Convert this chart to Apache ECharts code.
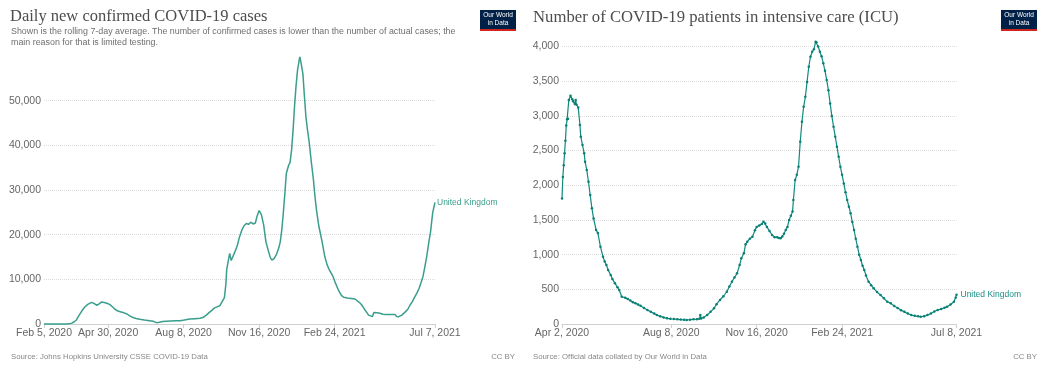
<!DOCTYPE html>
<html><head><meta charset="utf-8">
<script src="https://cdn.jsdelivr.net/npm/echarts@6/dist/echarts.min.js"></script>
<style>html,body{margin:0;padding:0;background:#fff}#c{width:1050px;height:370px}</style>
</head><body><div id="c"></div>
<script>
// ---- Left chart: daily new confirmed cases (x = days since Feb 5, 2020) ----
const casesTickDays = [0, 85, 185, 285, 385, 518];
const casesTickLabels = ['Feb 5, 2020', 'Apr 30, 2020', 'Aug 8, 2020', 'Nov 16, 2020', 'Feb 24, 2021', 'Jul 7, 2021'];
const casesYTicks = [0, 10000, 20000, 30000, 40000, 50000];
const casesData = [
  [0,0],[10,0],[20,0],[30,0],[33,30],[37,200],[40,500],[43,900],[46,1800],[50,2900],[54,3800],[58,4400],
  [63,4860],[66,4600],[70,4200],[73,4500],[76,4900],[80,4800],[84,4600],[87,4400],[91,3800],[94,3300],
  [98,2900],[102,2700],[106,2500],[110,2240],[114,1750],[118,1450],[122,1250],[127,1050],[133,900],
  [140,740],[145,600],[149,300],[153,400],[157,550],[162,600],[168,650],[174,700],[180,750],[186,900],
  [193,1120],[200,1200],[207,1280],[211,1500],[215,2000],[219,2600],[222,3000],[226,3600],[230,3900],
  [233,4100],[236,5000],[239,5900],[240,6100],[241,9000],[242,12100],[244,14000],[246,15800],[248,14200],
  [250,15000],[253,16200],[256,17500],[259,19500],[262,21000],[265,22000],[268,22500],[271,22300],
  [274,22800],[277,22400],[280,22600],[282,24000],[285,25400],[288,24500],[291,22200],[294,18400],
  [297,16500],[300,14800],[302,14300],[305,14700],[308,15600],[311,17000],[313,18400],[315,21000],
  [317,24800],[319,29000],[321,33700],[324,35500],[326,36200],[328,39000],[330,43400],[332,49000],
  [334,53500],[336,57000],[338,59000],[339,59800],[341,58000],[343,56000],[345,51000],[347,46400],
  [349,43500],[351,41200],[354,36500],[357,32200],[359,28500],[361,25500],[364,22000],[368,18800],
  [372,15100],[375,13300],[378,12100],[381,11200],[383,10600],[386,9200],[390,7600],[394,6400],
  [397,5980],[402,5800],[407,5700],[412,5600],[414,5530],[418,4800],[421,4250],[425,3200],[428,2500],
  [430,2000],[432,1700],[435,1650],[437,2600],[441,2500],[445,2400],[449,2200],[453,2150],[457,2100],
  [461,2100],[465,2150],[467,1700],[470,1650],[472,1700],[474,2000],[478,2600],[482,3300],[485,4250],
  [488,5000],[491,6000],[494,6900],[497,8000],[500,9500],[502,10600],[504,12300],[507,15100],
  [510,18500],[512,20500],[515,25000],[518,27200]
];

// ---- Right chart: ICU patients (x = days since Apr 2, 2020) ----
const icuTickDays = [0, 128, 228, 328, 462];
const icuTickLabels = ['Apr 2, 2020', 'Aug 8, 2020', 'Nov 16, 2020', 'Feb 24, 2021', 'Jul 8, 2021'];
const icuData = [
  [0,1810],[1,2120],[2,2290],[3,2460],[4,2640],[5,2860],[6,2950],[7,2960],[8,3230],[10,3290],[12,3240],
  [13,3210],[15,3170],[16,3230],[17,3160],[19,3120],[21,2870],[22,2700],[24,2580],[26,2460],[27,2340],
  [29,2220],[31,2050],[33,1860],[35,1670],[37,1520],[40,1355],[42,1310],[45,1115],[48,970],[50,900],
  [52,850],[54,780],[57,706],[59,650],[62,586],[65,530],[67,490],[70,393],[74,380],[77,360],[80,340],
  [83,315],[86,298],[89,280],[92,264],[96,230],[100,202],[104,175],[108,150],[111,130],[115,110],
  [119,95],[123,82],[127,75],[131,72],[135,68],[139,64],[143,60],[146,58],[150,62],[154,68],[158,70],
  [161,75],[162,130],[163,80],[166,95],[170,130],[174,175],[178,226],[181,285],[185,346],[189,400],
  [193,465],[196,540],[199,610],[202,670],[205,730],[208,850],[210,947],[213,1019],[215,1150],[217,1186],
  [220,1230],[223,1258],[226,1350],[228,1400],[231,1420],[234,1440],[236,1474],[238,1450],[240,1400],
  [243,1340],[246,1283],[249,1250],[252,1250],[254,1240],[256,1235],[258,1260],[260,1300],[262,1355],
  [264,1400],[266,1500],[268,1560],[270,1620],[271,1787],[273,2075],[275,2150],[277,2267],[279,2627],
  [281,2915],[283,3131],[285,3275],[287,3490],[289,3708],[291,3852],[293,3924],[295,3960],[297,4068],
  [298,4060],[300,4000],[302,3924],[304,3860],[306,3757],[308,3650],[310,3516],[312,3370],[314,3180],
  [316,3000],[318,2843],[320,2700],[322,2555],[324,2410],[326,2267],[328,2150],[330,2027],[332,1900],
  [334,1787],[336,1690],[338,1595],[340,1470],[342,1355],[344,1230],[346,1114],[348,1000],[350,922],
  [352,840],[354,778],[356,700],[359,610],[362,560],[365,514],[369,460],[373,418],[377,370],[381,321],
  [385,298],[389,260],[393,230],[397,200],[401,175],[405,150],[409,130],[413,118],[417,110],[420,105],
  [424,110],[428,130],[432,150],[436,180],[440,202],[444,215],[448,235],[451,250],[455,280],[459,321],
  [461,380],[462,420]
];

const SANS = '"Liberation Sans", Arial, sans-serif';
const SERIF = '"Liberation Serif", "Times New Roman", serif';
const fmtNum = v => v.toLocaleString('en-US');

function xAxisCfg(gridIndex, maxDay, ticks, labels) {
  return {
    type: 'value', gridIndex, min: 0, max: maxDay,
    axisLine: { show: true, lineStyle: { color: '#cfcfcf', width: 1 } },
    axisTick: { show: true, customValues: ticks, length: 4, lineStyle: { color: '#cfcfcf' } },
    axisLabel: {
      customValues: ticks, color: '#666', fontSize: 10.5, fontFamily: SANS, margin: 4,
      formatter: v => { const i = ticks.indexOf(v); return i >= 0 ? labels[i] : ''; }
    },
    splitLine: { show: false }
  };
}
function yAxisCfg(gridIndex, max, interval) {
  return {
    type: 'value', gridIndex, min: 0, max, interval,
    axisLine: { show: false }, axisTick: { show: false },
    axisLabel: { color: '#666', fontSize: 10.5, fontFamily: SANS, margin: 3, formatter: fmtNum },
    splitLine: { show: true, lineStyle: { color: '#dcdcdc', type: 'dotted', width: 1 } }
  };
}
function logo(x) {
  return [
    { type: 'rect', shape: { x: x, y: 10, width: 36, height: 19 }, style: { fill: '#002147' } },
    { type: 'rect', shape: { x: x, y: 29, width: 36, height: 2 }, style: { fill: '#ce261e' } },
    { type: 'text', style: { x: x + 18, y: 15, text: 'Our World', fill: '#fff', font: '6.5px ' + SANS, align: 'center', verticalAlign: 'middle' } },
    { type: 'text', style: { x: x + 18, y: 23, text: 'in Data', fill: '#fff', font: '6.5px ' + SANS, align: 'center', verticalAlign: 'middle' } }
  ];
}
function txt(x, y, text, font, fill, align) {
  return { type: 'text', style: { x, y, text, font, fill, align: align || 'left', verticalAlign: 'middle' } };
}

const chart = echarts.init(document.getElementById('c'), null, { renderer: 'canvas' });
chart.setOption({
  animation: false,
  backgroundColor: '#fff',
  grid: [
    { left: 44, right: 615, top: 100.7, bottom: 46 },
    { left: 562, right: 93.5, top: 46.5, bottom: 46 }
  ],
  xAxis: [
    xAxisCfg(0, 518, casesTickDays, casesTickLabels),
    xAxisCfg(1, 462, icuTickDays, icuTickLabels)
  ],
  yAxis: [
    yAxisCfg(0, 50000, 10000),
    yAxisCfg(1, 4000, 500)
  ],
  series: [
    {
      type: 'line', xAxisIndex: 0, yAxisIndex: 0, data: casesData, clip: false,
      showSymbol: false, lineStyle: { color: '#3a9e8c', width: 1.5 },
      emphasis: { disabled: true },
      endLabel: { show: true, formatter: 'United Kingdom', color: '#3a9e8c', fontSize: 8.5, fontFamily: SANS, distance: 2 }
    },
    {
      type: 'line', xAxisIndex: 1, yAxisIndex: 1, data: icuData, clip: false,
      showSymbol: true, symbol: 'circle', symbolSize: 2.5,
      itemStyle: { color: '#0a7f74' },
      lineStyle: { color: '#0f8a7e', width: 1.2 },
      emphasis: { disabled: true },
      endLabel: { show: true, formatter: 'United Kingdom', color: '#1a8f84', fontSize: 8.5, fontFamily: SANS, distance: 4 }
    }
  ],
  graphic: [].concat(
    [
      txt(10, 16.5, 'Daily new confirmed COVID-19 cases', '16.5px ' + SERIF, '#4d4d4d'),
      txt(11, 31.5, 'Shown is the rolling 7-day average. The number of confirmed cases is lower than the number of actual cases; the', '8.9px ' + SANS, '#6e6e6e'),
      txt(11, 43, 'main reason for that is limited testing.', '8.9px ' + SANS, '#6e6e6e'),
      txt(533, 17.5, 'Number of COVID-19 patients in intensive care (ICU)', '16.7px ' + SERIF, '#4d4d4d'),
      txt(11, 356.5, 'Source: Johns Hopkins University CSSE COVID-19 Data', '7.8px ' + SANS, '#888'),
      txt(515, 356.5, 'CC BY', '7.8px ' + SANS, '#888', 'right'),
      txt(533, 356.5, 'Source: Official data collated by Our World in Data', '7.8px ' + SANS, '#888'),
      txt(1037, 356.5, 'CC BY', '7.8px ' + SANS, '#888', 'right')
    ],
    logo(480),
    logo(1001)
  )
});
</script>
</body></html>
